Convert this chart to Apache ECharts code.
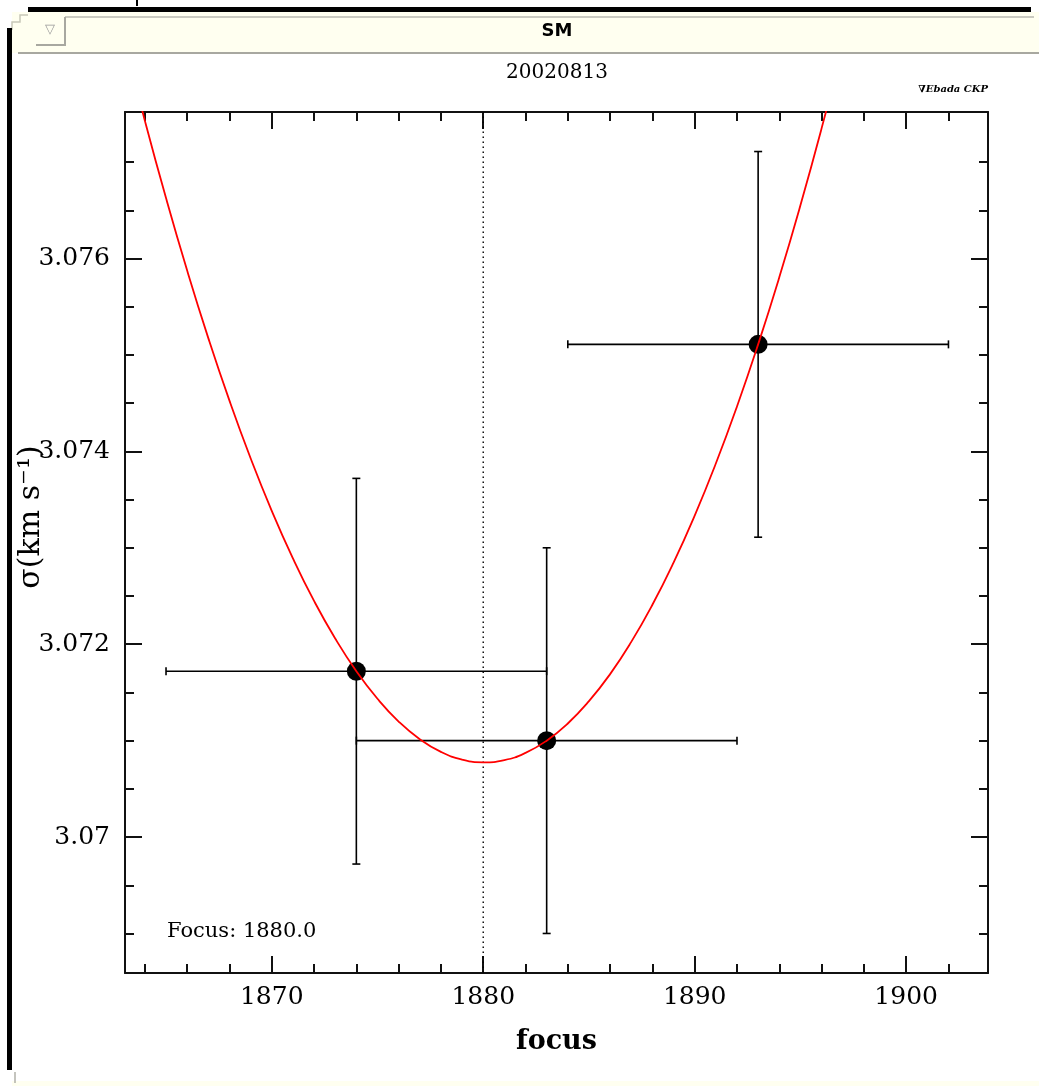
<!DOCTYPE html>
<html>
<head>
<meta charset="utf-8">
<title>SM focus</title>
<script src="https://cdn.jsdelivr.net/npm/echarts@6/dist/echarts.min.js"></script>
<style>
html,body{margin:0;padding:0;background:#fff;}
#chart{width:1039px;height:1086px;}
</style>
</head>
<body>
<div id="chart"></div>
<script>
// measured points with error bars
var focus = [1874, 1883, 1893];
var sigma = [3.07172, 3.07100, 3.07511];
var focusErr = [9, 9, 9];
var sigmaErr = [0.002, 0.002, 0.002];

// red fit curve
var fitX = [1863, 1864, 1865, 1866, 1867, 1868, 1869, 1870, 1871, 1872, 1873, 1874, 1875, 1876, 1877, 1878, 1879, 1880,
            1881, 1882, 1883, 1884, 1885, 1886, 1887, 1888, 1889, 1890, 1891, 1892, 1893, 1894, 1895, 1896, 1897];
var fitY = [3.078285, 3.077430, 3.076627, 3.075875, 3.075175, 3.074526, 3.073929, 3.073384, 3.072891, 3.072449, 3.072059,
            3.071720, 3.071434, 3.071198, 3.071015, 3.070883, 3.070803, 3.070775, 3.070798, 3.070873, 3.071000, 3.071178,
            3.071409, 3.071690, 3.072024, 3.072409, 3.072846, 3.073334, 3.073874, 3.074466, 3.075110, 3.075805, 3.076552,
            3.077350, 3.078200];

var bestFocus = 1880.0;

// tick positions
var xMajor = [1870, 1880, 1890, 1900];
var xMinor = [1864, 1866, 1868, 1872, 1874, 1876, 1878, 1882, 1884, 1886, 1888, 1892, 1894, 1896, 1898, 1902];
var yMajor = [3.070, 3.072, 3.074, 3.076];
var yMinor = [3.0690, 3.0695, 3.0705, 3.0710, 3.0715, 3.0725, 3.0730, 3.0735, 3.0745, 3.0750, 3.0755, 3.0765, 3.0770];

var X_MIN = 1863.06, X_MAX = 1903.87;
var Y_MIN = 3.06859, Y_MAX = 3.07752;

var FONT = 'DejaVu Serif';
var INK = '#111';

function xAxisDef(pos, ticks, len, withLine, withLabel) {
  return {
    type: 'value', position: pos, min: X_MIN, max: X_MAX,
    axisLine: {show: withLine, onZero: false, lineStyle: {color: INK, width: 2}},
    axisTick: {show: true, inside: true, length: len, customValues: ticks, lineStyle: {color: INK, width: 2}},
    axisLabel: withLabel ? {
      show: true, customValues: ticks, color: '#000', fontFamily: FONT, fontSize: 25, margin: 12,
      formatter: function (v) { return String(Math.round(v)); }
    } : {show: false},
    splitLine: {show: false}
  };
}
function yAxisDef(pos, ticks, len, withLine, withLabel) {
  return {
    type: 'value', position: pos, min: Y_MIN, max: Y_MAX,
    axisLine: {show: withLine, onZero: false, lineStyle: {color: INK, width: 2}},
    axisTick: {show: true, inside: true, length: len, customValues: ticks, lineStyle: {color: INK, width: 2}},
    axisLabel: withLabel ? {
      show: true, customValues: ticks, color: '#000', fontFamily: FONT, fontSize: 25, margin: 15,
      formatter: function (v) { return String(+v.toFixed(3)); }
    } : {show: false},
    splitLine: {show: false}
  };
}

var errData = focus.map(function (f, i) { return [f, sigma[i], focusErr[i], sigmaErr[i]]; });
var pointData = focus.map(function (f, i) { return [f, sigma[i]]; });
var fitData = fitX.map(function (x, i) { return [x, fitY[i]]; });
var bestLine = [[bestFocus, Y_MIN], [bestFocus, Y_MAX]];

var chart = echarts.init(document.getElementById('chart'));

var xBottom = xAxisDef('bottom', xMajor, 17, true, true);
xBottom.name = 'focus';
xBottom.nameLocation = 'middle';
xBottom.nameGap = 55;
xBottom.nameTextStyle = {color: '#000', fontFamily: FONT, fontSize: 27, fontWeight: 'bold'};

chart.setOption({
  backgroundColor: '#fff',
  animation: false,
  grid: {left: 125, right: 51, top: 112, bottom: 113, containLabel: false, outerBoundsMode: 'none'},
  xAxis: [
    xBottom,
    xAxisDef('bottom', xMinor, 9, false, false),
    xAxisDef('top', xMajor, 17, true, false),
    xAxisDef('top', xMinor, 9, false, false)
  ],
  yAxis: [
    yAxisDef('left', yMajor, 17, true, true),
    yAxisDef('left', yMinor, 9, false, false),
    yAxisDef('right', yMajor, 17, true, false),
    yAxisDef('right', yMinor, 9, false, false)
  ],
  graphic: [
    // window frame
    {type: 'rect', shape: {x: 12, y: 12, width: 1027, height: 41}, style: {fill: '#fffff0'}},
    {type: 'line', shape: {x1: 18, y1: 53, x2: 1039, y2: 53}, style: {stroke: '#a8a8a0', lineWidth: 2}},
    {type: 'line', shape: {x1: 65, y1: 17, x2: 1034, y2: 17}, style: {stroke: '#b8b8b0', lineWidth: 1.5}},
    {type: 'polyline', shape: {points: [[36, 45], [65, 45], [65, 17]]}, style: {stroke: '#a8a8a0', lineWidth: 2, fill: null}},
    {type: 'text', x: 50, y: 30, style: {text: '▽', fill: '#999', font: '13px "DejaVu Sans"', align: 'center', verticalAlign: 'middle'}},
    {type: 'polyline', shape: {points: [[12, 30], [12, 22], [20, 22], [20, 15], [28, 15]]}, style: {stroke: '#c8c8b8', lineWidth: 1.5, fill: null}},
    {type: 'rect', shape: {x: 28, y: 7, width: 1003, height: 5}, style: {fill: '#000'}},
    {type: 'rect', shape: {x: 7, y: 28, width: 5, height: 1042}, style: {fill: '#000'}},
    {type: 'rect', shape: {x: 136, y: 0, width: 2, height: 6}, style: {fill: '#000'}},
    {type: 'rect', shape: {x: 12, y: 1081, width: 1027, height: 5}, style: {fill: '#fffff0'}},
    {type: 'line', shape: {x1: 15, y1: 1072, x2: 15, y2: 1083}, style: {stroke: '#b0b0a8', lineWidth: 1.5}},
    {type: 'text', x: 557, y: 31, style: {text: 'SM', fill: '#000', font: 'bold 18px "DejaVu Sans"', align: 'center', verticalAlign: 'middle'}},
    // plot texts
    {type: 'text', x: 557, y: 73, style: {text: '20020813', fill: '#000', font: '20px "DejaVu Serif"', align: 'center', verticalAlign: 'middle'}},
    {type: 'text', x: 988, y: 89, style: {text: '∇Ebada CKP', fill: '#000', font: 'italic bold 10px "DejaVu Serif"', align: 'right', verticalAlign: 'middle'}},
    {type: 'text', x: 167, y: 932, style: {text: 'Focus: ' + bestFocus.toFixed(1), fill: '#000', font: '21px "DejaVu Serif"', align: 'left', verticalAlign: 'middle'}},
    {type: 'text', x: 31, y: 517, rotation: Math.PI / 2, style: {text: 'σ(km s⁻¹)', fill: '#000', font: '30px "DejaVu Serif"', align: 'center', verticalAlign: 'middle'}}
  ],
  series: [
    {
      name: 'best',
      type: 'line',
      z: 1,
      showSymbol: false,
      silent: true,
      lineStyle: {color: '#000', width: 1.4, type: [1.5, 3.5]},
      data: bestLine
    },
    {
      name: 'errors',
      type: 'custom',
      z: 1,
      data: errData,
      renderItem: function (params, api) {
        var x = api.value(0), y = api.value(1), ex = api.value(2), ey = api.value(3);
        var l = api.coord([x - ex, y]), r = api.coord([x + ex, y]);
        var t = api.coord([x, y + ey]), b = api.coord([x, y - ey]);
        var cap = 4;
        var st = {stroke: '#000', lineWidth: 1.6};
        return {
          type: 'group',
          children: [
            {type: 'line', shape: {x1: l[0], y1: l[1], x2: r[0], y2: r[1]}, style: st},
            {type: 'line', shape: {x1: l[0], y1: l[1] - cap, x2: l[0], y2: l[1] + cap}, style: st},
            {type: 'line', shape: {x1: r[0], y1: r[1] - cap, x2: r[0], y2: r[1] + cap}, style: st},
            {type: 'line', shape: {x1: t[0], y1: t[1], x2: b[0], y2: b[1]}, style: st},
            {type: 'line', shape: {x1: t[0] - cap, y1: t[1], x2: t[0] + cap, y2: t[1]}, style: st},
            {type: 'line', shape: {x1: b[0] - cap, y1: b[1], x2: b[0] + cap, y2: b[1]}, style: st}
          ]
        };
      }
    },
    {
      name: 'points',
      type: 'scatter',
      z: 2,
      symbol: 'circle',
      symbolSize: 19,
      itemStyle: {color: '#000', opacity: 1},
      data: pointData
    },
    {
      name: 'fit',
      type: 'line',
      z: 3,
      smooth: true,
      showSymbol: false,
      clip: true,
      lineStyle: {color: '#ff0000', width: 1.8},
      data: fitData
    }
  ]
});
</script>
</body>
</html>
